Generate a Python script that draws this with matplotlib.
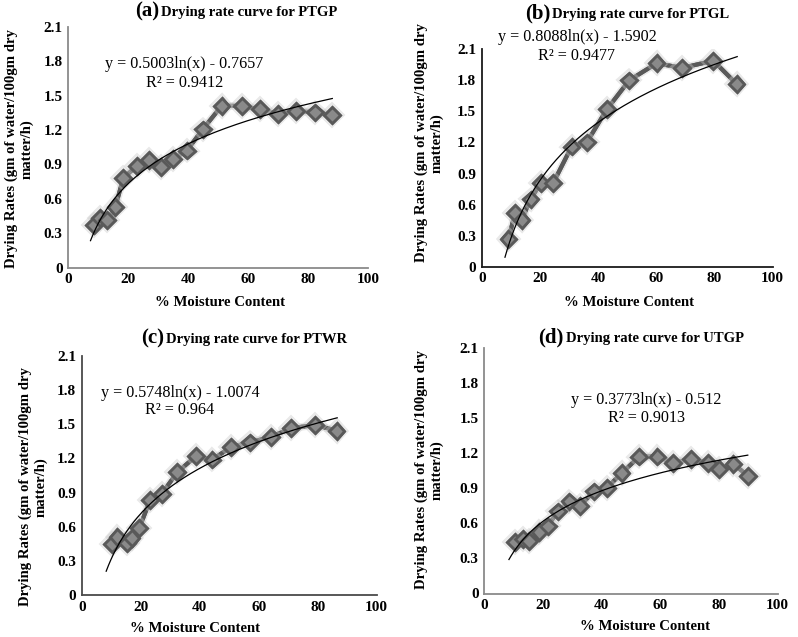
import numpy as np
import matplotlib
matplotlib.use("Agg")
import matplotlib.pyplot as plt
import matplotlib.patheffects as pe

plt.rcParams['font.family'] = ['Liberation Serif', 'DejaVu Serif']

# ---------------- data ----------------
ptgp_x = [8.6, 10.6, 13.0, 15.7, 18.3, 22.8, 27.0, 30.8, 35.0, 39.5, 44.8, 51.1, 57.8, 63.9, 69.8, 75.9, 82.2, 88.0]
ptgp_y = [0.37, 0.43, 0.415, 0.53, 0.78, 0.886, 0.938, 0.88, 0.947, 1.02, 1.205, 1.41, 1.41, 1.38, 1.34, 1.365, 1.353, 1.33]

ptgl_x = [9.2, 11.4, 13.7, 16.8, 20.3, 24.6, 30.9, 36.1, 43.0, 50.7, 60.1, 68.9, 79.6, 87.6]
ptgl_y = [0.265, 0.516, 0.45, 0.65, 0.81, 0.81, 1.16, 1.20, 1.52, 1.80, 1.965, 1.92, 1.99, 1.765]

ptwr_x = [10.2, 12.1, 15.3, 16.9, 19.5, 23.2, 27.1, 32.4, 38.7, 44.3, 50.6, 57.0, 64.1, 71.0, 79.1, 86.4]
ptwr_y = [0.448, 0.507, 0.454, 0.498, 0.586, 0.835, 0.888, 1.078, 1.22, 1.19, 1.30, 1.34, 1.39, 1.465, 1.494, 1.444]

utgp_x = [10.5, 13.1, 15.3, 18.8, 21.6, 25.0, 29.0, 32.6, 37.4, 41.7, 46.8, 52.8, 59.0, 64.4, 70.4, 76.2, 80.1, 84.9, 89.8]
utgp_y = [0.44, 0.465, 0.45, 0.525, 0.575, 0.703, 0.789, 0.752, 0.874, 0.903, 1.03, 1.173, 1.173, 1.117, 1.154, 1.117, 1.066, 1.111, 1.008]

# logarithmic trend lines (y = a ln(x) + b), as printed on the chart
trend_a = [0.5003, 0.8088, 0.5748, 0.3773]
trend_b = [-0.7657, -1.5902, -1.0074, -0.512]
trend_r2 = ["0.9412", "0.9477", "0.964", "0.9013"]
trend_range = [(7.4, 88.0), (8.0, 87.8), (8.3, 86.6), (8.4, 89.8)]

labels = ["(a)", "(b)", "(c)", "(d)"]
names = ["PTGP", "PTGL", "PTWR", "UTGP"]
xs = [ptgp_x, ptgl_x, ptwr_x, utgp_x]
ys = [ptgp_y, ptgl_y, ptwr_y, utgp_y]

yticks = [0, 0.3, 0.6, 0.9, 1.2, 1.5, 1.8, 2.1]
yticklabels = ["0", "0.3", "0.6", "0.9", "1.2", "1.5", "1.8", "2.1"]
xticks = [0, 20, 40, 60, 80, 100]

# ---------------- layout (pixels) ----------------
W, H = 798, 637
fig = plt.figure(figsize=(W / 100, H / 100), dpi=100)

def fx(x):
    return x / W

def fy(y):
    return 1 - y / H

axes_px = [(68.3, 26.7, 368.3, 267.7),
           (481.7, 49.3, 772.7, 266.7),
           (81.7, 356.0, 376.7, 595.0),
           (484.3, 348.3, 777.7, 593.5)]
title_px = [(160, 16), (551, 18), (165.5, 343), (564.5, 342)]
eq_px = [(184.5, 64, 83), (577, 37, 56), (180, 393, 410), (646, 400, 418)]
ylab_px = [(19, 149), (429, 143), (33, 487), (429.5, 470)]
xlab_px = [(220, 302), (629, 303), (195, 628), (645.5, 627)]
spine_cols = ['#8a8a8a', '#1a1a1a', '#4a4a4a', '#8a8a8a']

line_col = '#595959'
fill_col = '#8a8a8a'

for i in range(4):
    x0, y0, x1, y1 = axes_px[i]
    ax = fig.add_axes([fx(x0), fy(y1), (x1 - x0) / W, (y1 - y0) / H])
    ax.set_xlim(0, 100)
    ax.set_ylim(0, 2.1)
    for s in ['top', 'right']:
        ax.spines[s].set_visible(False)
    for s in ['left', 'bottom']:
        ax.spines[s].set_color(spine_cols[i])
        ax.spines[s].set_linewidth(1.3)
    ax.set_xticks(xticks)
    ax.set_xticklabels([str(t) for t in xticks], fontsize=11, fontweight='bold')
    ax.set_yticks(yticks)
    ax.set_yticklabels(yticklabels, fontsize=11, fontweight='bold')
    ax.tick_params(length=0, pad=4)
    ax.patch.set_alpha(0)

    ax.plot(xs[i], ys[i], color=line_col, lw=3.0, marker='D', ms=8,
            mfc=fill_col, mec=line_col, mew=2.0, zorder=3,
            path_effects=[pe.withStroke(linewidth=5.5, foreground='#c8c8c8', alpha=0.4), pe.Normal()])

    tx = np.linspace(trend_range[i][0], trend_range[i][1], 200)
    ty = trend_a[i] * np.log(tx) + trend_b[i]
    ax.plot(tx, ty, color='black', lw=0.9, zorder=4)

    # title
    jx, by = title_px[i]
    fig.text(fx(jx - 1), fy(by), labels[i], ha='right', va='baseline', fontsize=15, fontweight='bold')
    fig.text(fx(jx + 1), fy(by), "Drying rate curve for " + names[i], ha='left', va='baseline',
             fontsize=10.5, fontweight='bold')

    # equation
    ex, ey1, ey2 = eq_px[i]
    bstr = "%g" % abs(trend_b[i])
    fig.text(fx(ex), fy(ey1), "y = %.4fln(x) - %s" % (trend_a[i], bstr), ha='center', va='center', fontsize=11.6)
    fig.text(fx(ex), fy(ey2), "R\u00b2 = " + trend_r2[i], ha='center', va='center', fontsize=11.6)

    # axis labels
    lx, ly = ylab_px[i]
    fig.text(fx(lx), fy(ly), "Drying Rates (gm of water/100gm dry\nmatter/h)", rotation=90,
             ha='center', va='center', multialignment='center', fontsize=10.6, fontweight='bold',
             linespacing=1.2)
    xx, xy = xlab_px[i]
    fig.text(fx(xx), fy(xy), "% Moisture Content", ha='center', va='center', fontsize=10.6, fontweight='bold')

fig.savefig("out.png", dpi=100)
